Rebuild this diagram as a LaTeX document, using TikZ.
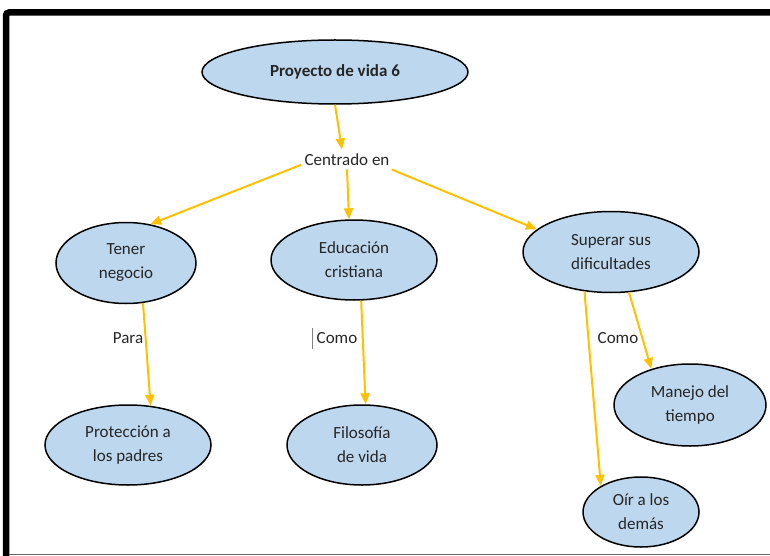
\documentclass[tikz,border=0pt]{standalone}
\usepackage{fontspec}
\setmainfont{Carlito}
\usetikzlibrary{arrows.meta,shapes.geometric}
\definecolor{nodeblue}{HTML}{BDD7EE}
\definecolor{arrorange}{HTML}{FFC000}
\tikzset{
  bubble/.style={ellipse, draw=black, line width=1.5pt, fill=nodeblue, inner sep=0pt,
    align=center, font=\fontsize{17}{24}\selectfont, text=black!85},
  lbl/.style={font=\fontsize{17}{24}\selectfont, text=black!85},
  conn/.style={draw=arrorange, line width=2pt, -{Triangle[length=11pt,width=9pt]}},
}
\begin{document}
\begin{tikzpicture}[x=1pt,y=-1pt]
\useasboundingbox (0,0) rectangle (770,556);
% frame
\draw[line width=6.5pt, rounded corners=3pt] (6,556) -- (6,12.5) -- (770,12.5);
\draw[line width=1.5pt, black!60] (9,554.5) -- (770,554.5);

\node[bubble, minimum width=266pt, minimum height=64pt, font=\fontsize{17}{24}\selectfont\bfseries] (top) at (335,72) {Proyecto de vida 6};
\node[lbl] (cen) at (347,160) {Centrado en};
\node[bubble, minimum width=140pt, minimum height=81pt] (ten) at (126,263) {Tener\\negocio};
\node[bubble, minimum width=166pt, minimum height=80pt] (edu) at (354,260) {Educación\\cristiana};
\node[bubble, minimum width=176pt, minimum height=81pt] (sup) at (611,252) {Superar sus\\dificultades};
\node[bubble, minimum width=166pt, minimum height=80pt] (pro) at (128,445) {Protección a\\los padres};
\node[bubble, minimum width=150pt, minimum height=80pt] (fil) at (362,445) {Filosofía\\de vida};
\node[bubble, minimum width=152pt, minimum height=82pt] (man) at (690,405) {Manejo del\\tiempo};
\node[bubble, minimum width=116pt, minimum height=70pt] (oir) at (641,512) {Oír a los\\demás};

\node[lbl] (para) at (128,338) {Para};
\node[lbl] (como1) at (337,338) {Como};
\node[lbl] (como2) at (618,338) {Como};
\draw[black!50, line width=0.8pt] ([xshift=-1pt]como1.west |- 0,328) -- ([xshift=-1pt]como1.west |- 0,349);

\draw[conn] (top.south) -- ([xshift=-5pt,yshift=1pt]cen.north);
\draw[conn] (cen.186) -- (ten.58);
\draw[conn] (cen.south) -- (edu.97);
\draw[conn] (cen.-12) -- (sup.163);
\draw[conn] (ten.-67) -- (pro.60);
\draw[conn] (edu.-80) -- (fil.85);
\draw[conn] (sup.-124) -- (oir.147);
\draw[conn] (sup.-66) -- (man.137);
\end{tikzpicture}
\end{document}
